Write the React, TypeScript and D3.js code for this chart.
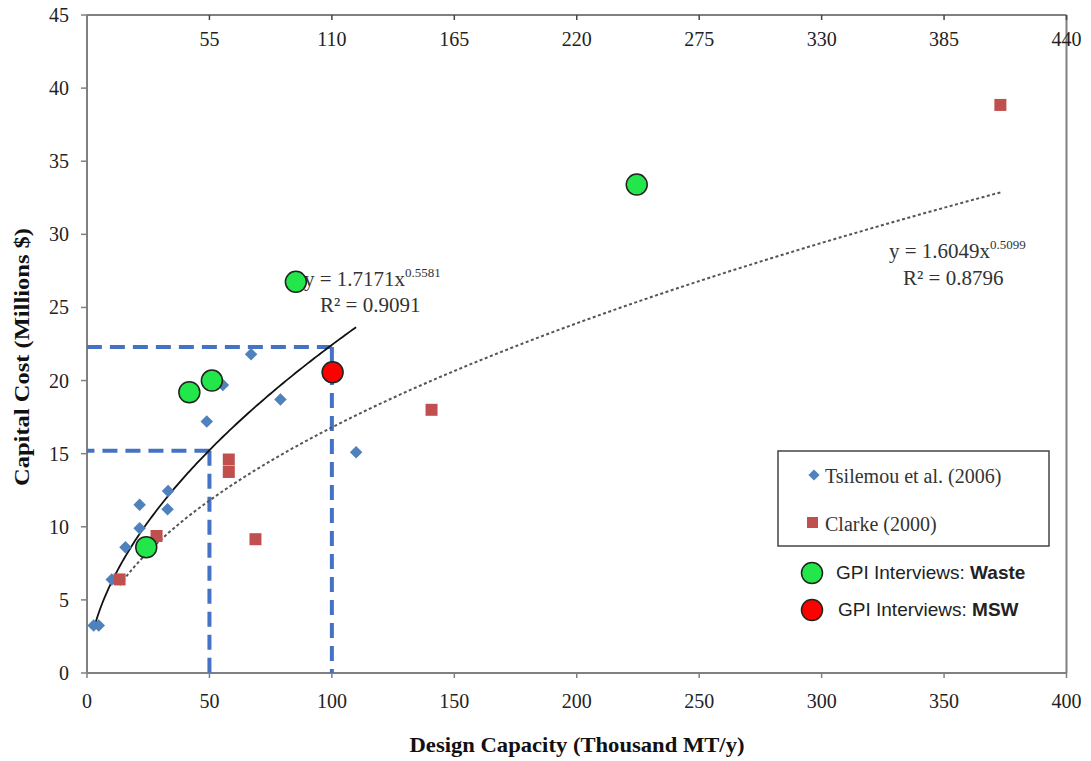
import React from "react";
import * as d3 from "d3";

// ---------- data ----------
const tsilemou: [number, number][] = [
  [2.7, 3.25], [4.8, 3.25], [10.1, 6.4], [15.7, 8.6], [21.5, 9.9], [21.5, 11.5],
  [32.9, 11.2], [33.1, 12.45], [48.9, 17.2], [55.5, 19.7], [67, 21.8], [79, 18.7], [109.9, 15.1],
];
const clarke: [number, number][] = [
  [13.3, 6.4], [28.4, 9.37], [57.9, 14.6], [57.9, 13.75], [68.8, 9.15], [140.7, 18.0], [373, 38.85],
];
const gpiWaste: [number, number][] = [
  [24.2, 8.6], [41.8, 19.2], [51, 20.0], [85.3, 26.75], [224.5, 33.4],
];
const gpiMSW: [number, number][] = [[100.3, 20.57]];

// trend fits (from the equations printed on the chart)
const fitTsilemou = { a: 1.7171, b: 0.5581, from: 2.7, to: 109.9 };
const fitClarke = { a: 1.6049, b: 0.5099, from: 13.3, to: 373 };

const guides = [
  { x: 50, y: 15.2 },
  { x: 100, y: 22.3 },
];

const xTicks = [0, 50, 100, 150, 200, 250, 300, 350, 400];
const xTopTicks = [55, 110, 165, 220, 275, 330, 385, 440];
const yTicks = [0, 5, 10, 15, 20, 25, 30, 35, 40, 45];

// ---------- layout ----------
const W = 1091;
const H = 761;
const x = d3.scaleLinear().domain([0, 400]).range([87, 1066.5]);
const xTop = d3.scaleLinear().domain([0, 440]).range([87, 1066.5]);
const y = d3.scaleLinear().domain([0, 45]).range([673, 15]);

const serif = "'Liberation Serif', 'Times New Roman', serif";
const sans = "'Liberation Sans', Arial, sans-serif";
const axisColor = "#808080";

function fitPath(f: { a: number; b: number; from: number; to: number }) {
  const n = 120;
  const pts: [number, number][] = d3.range(n + 1).map((i) => {
    const xv = f.from + ((f.to - f.from) * i) / n;
    return [xv, f.a * Math.pow(xv, f.b)];
  });
  return d3
    .line<[number, number]>()
    .x((d) => x(d[0]))
    .y((d) => y(d[1]))(pts) as string;
}

const diamond = d3.symbol().type(d3.symbolDiamond2).size(100)() as string;
const legendDiamond = d3.symbol().type(d3.symbolDiamond2).size(80)() as string;

export default function App() {
  return (
    <div style={{ position: "absolute", left: 0, top: 0 }}>
      <svg width={W} height={H} style={{ display: "block", background: "#fff" }}>
        {/* frame */}
        <line x1={x(0)} x2={x(0)} y1={y(0)} y2={y(45)} stroke={axisColor} strokeWidth={2} />
        <line x1={x(0)} x2={x(400)} y1={y(0)} y2={y(0)} stroke={axisColor} strokeWidth={2} />
        <line x1={x(0)} x2={x(400)} y1={y(45)} y2={y(45)} stroke={axisColor} strokeWidth={2} />
        <line x1={x(400)} x2={x(400)} y1={y(0)} y2={y(45)} stroke={axisColor} strokeWidth={2} />

        {/* left ticks */}
        {yTicks.map((t) => (
          <g key={"y" + t}>
            <line x1={x(0) - 6} x2={x(0)} y1={y(t)} y2={y(t)} stroke={axisColor} strokeWidth={1.5} />
            <text x={69} y={y(t)} dy="0.35em" textAnchor="end" fontFamily={serif} fontSize={20} fill="#222">
              {t}
            </text>
          </g>
        ))}
        {/* bottom ticks */}
        {xTicks.map((t) => (
          <g key={"x" + t}>
            <line x1={x(t)} x2={x(t)} y1={y(0)} y2={y(0) + 5} stroke={axisColor} strokeWidth={1.5} />
            <text x={x(t)} y={708} textAnchor="middle" fontFamily={serif} fontSize={20} fill="#222">
              {t}
            </text>
          </g>
        ))}
        {/* top ticks */}
        {xTopTicks.map((t) => (
          <g key={"xt" + t}>
            <line x1={xTop(t)} x2={xTop(t)} y1={y(45)} y2={y(45) + 5} stroke="#444" strokeWidth={1.5} />
            <text x={xTop(t)} y={46} textAnchor="middle" fontFamily={serif} fontSize={20} fill="#222">
              {t}
            </text>
          </g>
        ))}

        {/* axis titles */}
        <text
          x={577}
          y={752}
          textAnchor="middle"
          fontFamily={serif}
          fontWeight="bold"
          fontSize={21}
          fill="#111"
          textLength={335}
          lengthAdjust="spacingAndGlyphs"
        >
          Design Capacity (Thousand MT/y)
        </text>
        <text
          transform={`translate(29,357) rotate(-90)`}
          textAnchor="middle"
          fontFamily={serif}
          fontWeight="bold"
          fontSize={21}
          fill="#111"
          textLength={258}
          lengthAdjust="spacingAndGlyphs"
        >
          Capital Cost (Millions $)
        </text>

        {/* guide lines */}
        {guides.map((g, i) => (
          <g key={"g" + i} stroke="#4472C4" strokeWidth={4} strokeDasharray="15,8" fill="none">
            <line x1={x(g.x)} x2={x(0)} y1={y(g.y)} y2={y(g.y)} />
            <line x1={x(g.x)} x2={x(g.x)} y1={y(g.y)} y2={y(0)} />
          </g>
        ))}

        {/* trend lines */}
        <path d={fitPath(fitClarke)} fill="none" stroke="#555" strokeWidth={2} strokeDasharray="3,2.5" />
        <path d={fitPath(fitTsilemou)} fill="none" stroke="#111" strokeWidth={1.8} />

        {/* equations */}
        <text x={304} y={286} fontFamily={serif} fontSize={21} fill="#333">
          y = 1.7171x<tspan dy={-9} fontSize={13}>0.5581</tspan>
        </text>
        <text x={320} y={312} fontFamily={serif} fontSize={21} fill="#333">
          R² = 0.9091
        </text>
        <text x={889} y={258} fontFamily={serif} fontSize={21} fill="#333">
          y = 1.6049x<tspan dy={-9} fontSize={13}>0.5099</tspan>
        </text>
        <text x={903} y={285} fontFamily={serif} fontSize={21} fill="#333">
          R² = 0.8796
        </text>

        {/* points */}
        {tsilemou.map((d, i) => (
          <path key={"t" + i} d={diamond} transform={`translate(${x(d[0])},${y(d[1])})`} fill="#4F81BD" />
        ))}
        {clarke.map((d, i) => (
          <rect key={"c" + i} x={x(d[0]) - 6} y={y(d[1]) - 6} width={12} height={12} fill="#C0504D" />
        ))}
        {gpiWaste.map((d, i) => (
          <circle key={"w" + i} cx={x(d[0])} cy={y(d[1])} r={10.5} fill="#22E64A" stroke="#222" strokeWidth={1.5} />
        ))}
        {gpiMSW.map((d, i) => (
          <circle key={"m" + i} cx={x(d[0])} cy={y(d[1])} r={10.5} fill="#FF0000" stroke="#222" strokeWidth={1.5} />
        ))}

        {/* legend */}
        <rect x={778} y={451} width={271} height={95} fill="#fff" stroke="#444" strokeWidth={1.5} />
        <path d={legendDiamond} transform="translate(814,475)" fill="#4F81BD" />
        <text x={825} y={483} fontFamily={serif} fontSize={20} fill="#333">
          Tsilemou et al. (2006)
        </text>
        <rect x={807} y={517} width={11} height={11} fill="#C0504D" />
        <text x={825} y={531} fontFamily={serif} fontSize={20} fill="#333">
          Clarke (2000)
        </text>
        <circle cx={812} cy={573} r={10.5} fill="#22E64A" stroke="#222" strokeWidth={1.5} />
        <text x={836} y={579} fontFamily={sans} fontSize={19} fill="#222">
          GPI Interviews: <tspan fontWeight="bold">Waste</tspan>
        </text>
        <circle cx={812} cy={610} r={10.5} fill="#FF0000" stroke="#222" strokeWidth={1.5} />
        <text x={838} y={616} fontFamily={sans} fontSize={19} fill="#222">
          GPI Interviews: <tspan fontWeight="bold">MSW</tspan>
        </text>
      </svg>
    </div>
  );
}
